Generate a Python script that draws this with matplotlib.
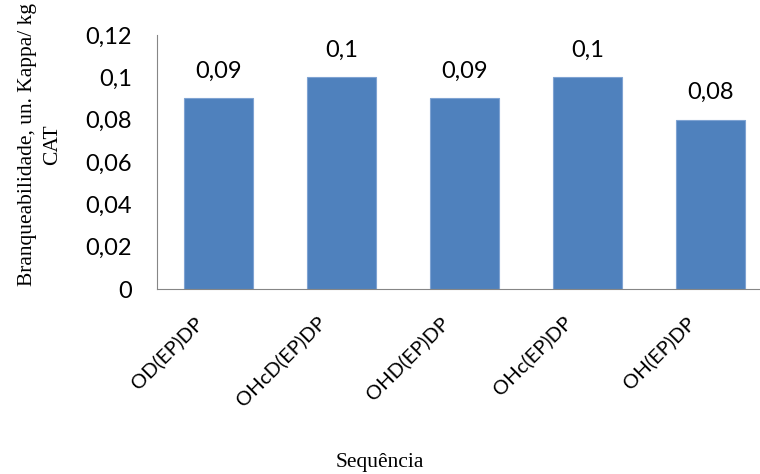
import matplotlib.pyplot as plt
from matplotlib import transforms

sequencias = ['OD(EP)DP', 'OHcD(EP)DP', 'OHD(EP)DP', 'OHc(EP)DP', 'OH(EP)DP']
valores = [0.09, 0.1, 0.09, 0.1, 0.08]
rotulos = ['0,09', '0,1', '0,09', '0,1', '0,08']
yticks = [0, 0.02, 0.04, 0.06, 0.08, 0.1, 0.12]
yticklabels = ['0', '0,02', '0,04', '0,06', '0,08', '0,1', '0,12']

fig = plt.figure(figsize=(7.6, 4.74), dpi=100)
ax = fig.add_axes([157 / 760, 1 - 289 / 474, 615 / 760, 254 / 474])

x = list(range(len(sequencias)))
bars = ax.bar(x, valores, width=0.56, color='#4F81BD', edgecolor='#7FA3D2', linewidth=0.8)

for b, r in zip(bars, rotulos):
    ax.text(b.get_x() + b.get_width() / 2, b.get_height() + 0.008, r,
            ha='center', va='bottom', fontsize=17, family='Lato')

ax.set_xlim(-0.5, 4.5)
ax.set_ylim(0, 0.12)
ax.set_yticks(yticks)
ax.set_yticklabels(yticklabels, fontsize=17, family='Lato')
ax.set_xticks(x)
ax.set_xticklabels([])

# rotated category labels, shifted down-left of the tick
offset = transforms.ScaledTranslation(-0.25, -0.24, fig.dpi_scale_trans)
for xi, s in zip(x, sequencias):
    ax.text(xi, 0, s, rotation=45, ha='right', va='top', rotation_mode='anchor',
            fontsize=14.5, family='Lato',
            transform=ax.get_xaxis_transform() + offset)

ax.tick_params(axis='y', length=0, pad=18)
ax.tick_params(axis='x', length=0, pad=0)
for s in ['top', 'right']:
    ax.spines[s].set_visible(False)
ax.spines['left'].set_color('#868686')
ax.spines['bottom'].set_color('#868686')

fig.text(40 / 760, 1 - 145 / 474, 'Branqueabilidade, un. Kappa/ kg\nCAT', rotation=90,
         ha='center', va='center', multialignment='center',
         family='Liberation Serif', fontsize=15.5, linespacing=1.4)
fig.text(380 / 760, 1 - 463 / 474, 'Sequência', ha='center', va='center',
         family='Liberation Serif', fontsize=15.5)

plt.savefig('out.png', dpi=100)
